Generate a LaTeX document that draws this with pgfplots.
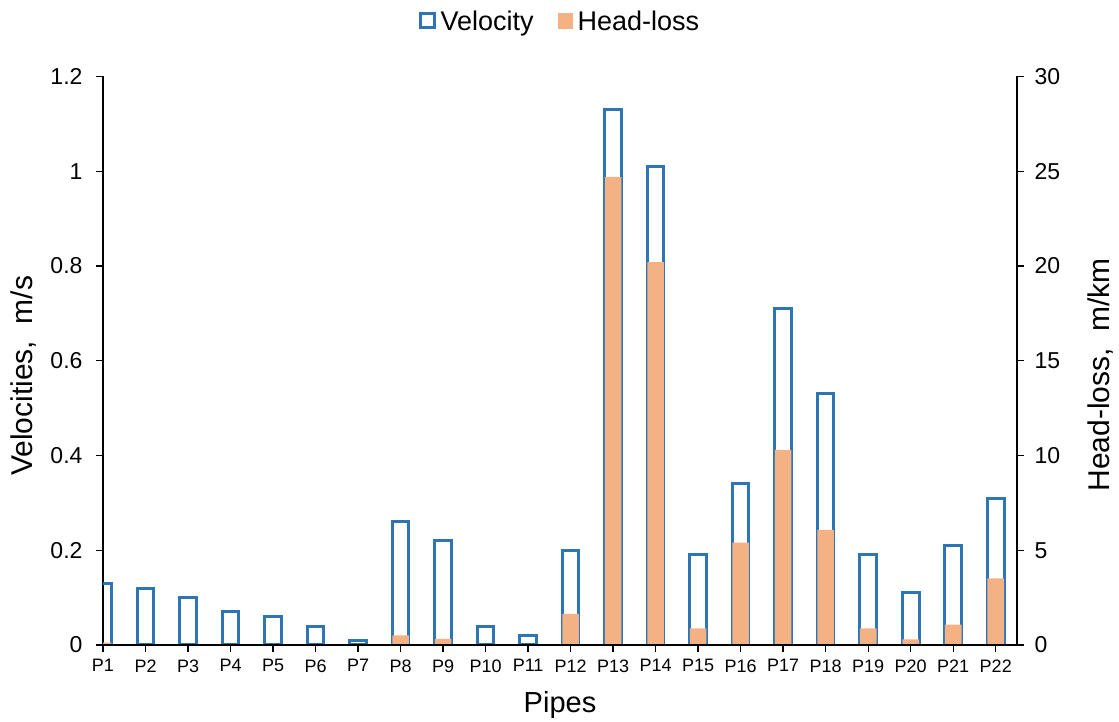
\documentclass[border=0pt]{standalone}
\usepackage{pgfplots}
\pgfplotsset{compat=1.18}
\usepackage{fontspec}
\setmainfont{Liberation Sans}
\definecolor{vblue}{HTML}{2E75B6}
\definecolor{horange}{HTML}{F4B183}
\begin{document}
\begin{tikzpicture}
\pgfplotsset{
  base/.style={
    scale only axis, width=914pt, height=568.5pt,
    at={(0pt,0pt)}, anchor=south west,
    xmin=1, xmax=22.5, ymin=0,
    tick align=outside, major tick length=7pt,
    every tick/.style={black, line width=1.4pt},
    axis line style={black, line width=1.4pt, shorten >=0pt, shorten <=0pt, -},
    /pgf/number format/assume math mode=true,
    ticklabel style={font=\fontsize{23}{23}\selectfont},
    label style={font=\fontsize{30}{30}\selectfont},
    ybar, bar width=0.39,
  },
}
\begin{axis}[base, ymax=1.2,
  axis y line*=left, axis x line*=bottom,
  ytick={0,0.2,0.4,0.6,0.8,1,1.2},
  yticklabels={0,0.2,0.4,0.6,0.8,1,1.2},
  yticklabel style={xshift=-10pt},
  xtick={1,2,...,22},
  xticklabels={P1,P2,P3,P4,P5,P6,P7,P8,P9,P10,P11,P12,P13,P14,P15,P16,P17,P18,P19,P20,P21,P22},
  xticklabel style={font=\fontsize{18}{18}\selectfont, yshift=-4pt},
  xlabel={Pipes},
  ylabel={Velocities,\ \ m/s},
  xlabel style={at={([yshift=-60pt]axis description cs:0.5,0)}, anchor=center, font=\fontsize{29}{29}\selectfont},
  ylabel style={at={([xshift=-79pt,yshift=-15pt]axis description cs:0,0.5)}, anchor=center},
]
\addplot[draw=vblue, fill=none, line width=3pt, bar shift=0pt] coordinates {
(1,0.13) (2,0.12) (3,0.10) (4,0.07) (5,0.06) (6,0.04) (7,0.01) (8,0.26)
(9,0.22) (10,0.04) (11,0.02) (12,0.20) (13,1.13) (14,1.01) (15,0.19)
(16,0.34) (17,0.71) (18,0.53) (19,0.19) (20,0.11) (21,0.21) (22,0.31)};
\end{axis}
\begin{axis}[base, ymax=30,
  axis y line*=right, axis x line*=bottom,
  xtick=\empty,
  ytick={0,5,10,15,20,25,30},
  yticklabel style={xshift=7pt},
  ylabel={Head-loss,\ \ m/km},
  ylabel style={at={([xshift=84pt,yshift=-14pt]axis description cs:1,0.5)}, anchor=center, rotate=0},
  axis on top,
  legend columns=2,
  legend style={at={([yshift=55.5pt]axis description cs:0.5,1)}, anchor=center,
    draw=none, fill=none, font=\fontsize{27}{27}\selectfont,
    /tikz/every even column/.append style={column sep=22pt}},
  legend cell align=left,
]
\addlegendimage{legend image code/.code={\draw[draw=vblue, line width=3pt] (0pt,-7pt) rectangle (14pt,7pt); \path (18pt,0pt);}}
\addlegendentry{Velocity}
\addplot[fill=horange, draw=none, bar shift=0pt,
  legend image code/.code={\fill[horange] (0pt,-8pt) rectangle (15pt,8pt); \path (18pt,0pt);}] coordinates {
(1,0.12) (2,0) (3,0) (4,0) (5,0) (6,0) (7,0) (8,0.51)
(9,0.32) (10,0) (11,0) (12,1.64) (13,24.7) (14,20.2) (15,0.88)
(16,5.4) (17,10.3) (18,6.07) (19,0.88) (20,0.30) (21,1.07) (22,3.52)};
\addlegendentry{Head-loss}
\end{axis}
\pgfresetboundingbox
\useasboundingbox (-103pt,-77pt) rectangle (1016pt,645pt);
\end{tikzpicture}
\end{document}
